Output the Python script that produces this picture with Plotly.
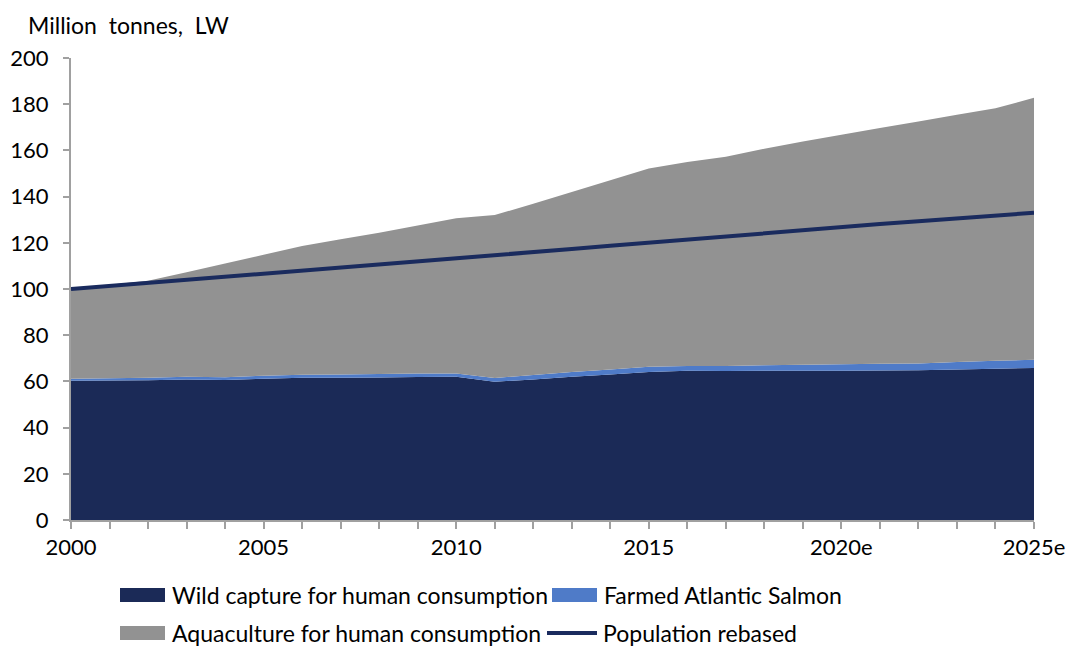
import plotly.graph_objects as go

# Years on the horizontal axis
years = list(range(2000, 2026))
tick_text = ["2000", "", "", "", "", "2005", "", "", "", "", "2010", "", "", "", "", "2015",
             "", "", "", "", "2020e", "", "", "", "", "2025e"]

# Million tonnes, live weight
wild_capture = [60.3, 60.4, 60.5, 60.8, 60.6, 61.2, 61.6, 61.6, 61.7, 61.9, 62.0, 59.9, 60.8,
                62.0, 63.0, 64.1, 64.6, 64.5, 64.6, 64.6, 64.6, 64.7, 64.8, 65.2, 65.5, 65.8]
farmed_salmon = [0.9, 1.0, 1.1, 1.2, 1.2, 1.3, 1.3, 1.4, 1.5, 1.5, 1.4, 1.6, 2.0,
                 2.1, 2.2, 2.2, 2.1, 2.2, 2.4, 2.6, 2.8, 2.9, 3.0, 3.2, 3.4, 3.6]
aquaculture = [38.8, 40.4, 42.0, 45.3, 49.2, 52.3, 55.7, 58.5, 61.2, 64.1, 67.2, 70.5, 74.1,
               77.9, 81.9, 85.9, 88.3, 90.6, 93.7, 96.7, 99.4, 102.1, 104.7, 107.0, 109.3, 113.4]
# World population, index 2000 = 100
population = [100.0, 101.3, 102.6, 103.9, 105.2, 106.5, 107.8, 109.1, 110.4, 111.7, 113.1,
              114.5, 115.9, 117.3, 118.7, 120.1, 121.4, 122.8, 124.1, 125.5, 126.8, 128.1,
              129.3, 130.6, 131.8, 133.0]

NAVY = "#1b2a57"
SALMON_BLUE = "#4f7bc8"
GREY = "#929292"
LINE_NAVY = "#1a2b5e"
FONT = "Lato"
TEXT = "#000000"

fig = go.Figure()
fig.add_trace(go.Scatter(x=years, y=wild_capture, stackgroup="s", mode="none",
                         fillcolor=NAVY, name="Wild capture for human consumption"))
fig.add_trace(go.Scatter(x=years, y=farmed_salmon, stackgroup="s", mode="none",
                         fillcolor=SALMON_BLUE, name="Farmed Atlantic Salmon"))
fig.add_trace(go.Scatter(x=years, y=aquaculture, stackgroup="s", mode="none",
                         fillcolor=GREY, name="Aquaculture for human consumption"))
fig.add_trace(go.Scatter(x=years, y=population, mode="lines",
                         line=dict(color=LINE_NAVY, width=4), name="Population rebased"))

fig.update_layout(
    width=1067, height=650,
    margin=dict(l=71, r=33, t=58, b=130),
    paper_bgcolor="white", plot_bgcolor="white",
    showlegend=False,
    font=dict(family=FONT, size=22, color=TEXT),
)
fig.update_xaxes(
    range=[2000, 2025], tickvals=years, ticktext=tick_text,
    automargin=False,
    showgrid=False, zeroline=False,
    showline=True, linecolor="#a0a0a0", linewidth=2,
    ticks="outside", ticklen=7, tickcolor="#a0a0a0", tickwidth=1.5,
    tickfont=dict(family=FONT, size=22, color=TEXT),
)
fig.update_yaxes(
    range=[0, 200], dtick=20,
    automargin=False,
    showgrid=False, zeroline=False,
    showline=True, linecolor="#a0a0a0", linewidth=2,
    ticks="outside", ticklen=6, tickcolor="#a0a0a0", tickwidth=1.5,
    ticklabelstandoff=10,
    tickfont=dict(family=FONT, size=22, color=TEXT),
)

# Axis unit label
fig.add_annotation(text="Million  tonnes,  LW", xref="paper", yref="paper",
                   x=-0.047, y=1.071, xanchor="left", yanchor="middle",
                   showarrow=False, font=dict(family=FONT, size=23, color=TEXT))

# Legend drawn beneath the plot, two rows
def px_x(px):
    return (px - 71) / 963

def px_y(py):
    return (520 - py) / 462

legend_rows = [
    (595, [("rect", NAVY, 120, 165, 170, "Wild capture for human consumption"),
           ("rect", SALMON_BLUE, 552, 597, 602, "Farmed Atlantic Salmon")]),
    (633, [("rect", GREY, 120, 165, 170, "Aquaculture for human consumption"),
           ("line", LINE_NAVY, 547, 597, 601, "Population rebased")]),
]
for cy, items in legend_rows:
    for kind, color, x0, x1, tx, label in items:
        if kind == "rect":
            fig.add_shape(type="rect", xref="paper", yref="paper",
                          x0=px_x(x0), x1=px_x(x1), y0=px_y(cy - 7), y1=px_y(cy + 7),
                          fillcolor=color, line=dict(width=0))
        else:
            fig.add_shape(type="line", xref="paper", yref="paper",
                          x0=px_x(x0), x1=px_x(x1), y0=px_y(cy), y1=px_y(cy),
                          line=dict(color=color, width=4))
        fig.add_annotation(text=label, xref="paper", yref="paper",
                           x=px_x(tx), y=px_y(cy), xanchor="left", yanchor="middle",
                           showarrow=False, font=dict(family=FONT, size=23, color=TEXT))

fig.write_html("out.html")
